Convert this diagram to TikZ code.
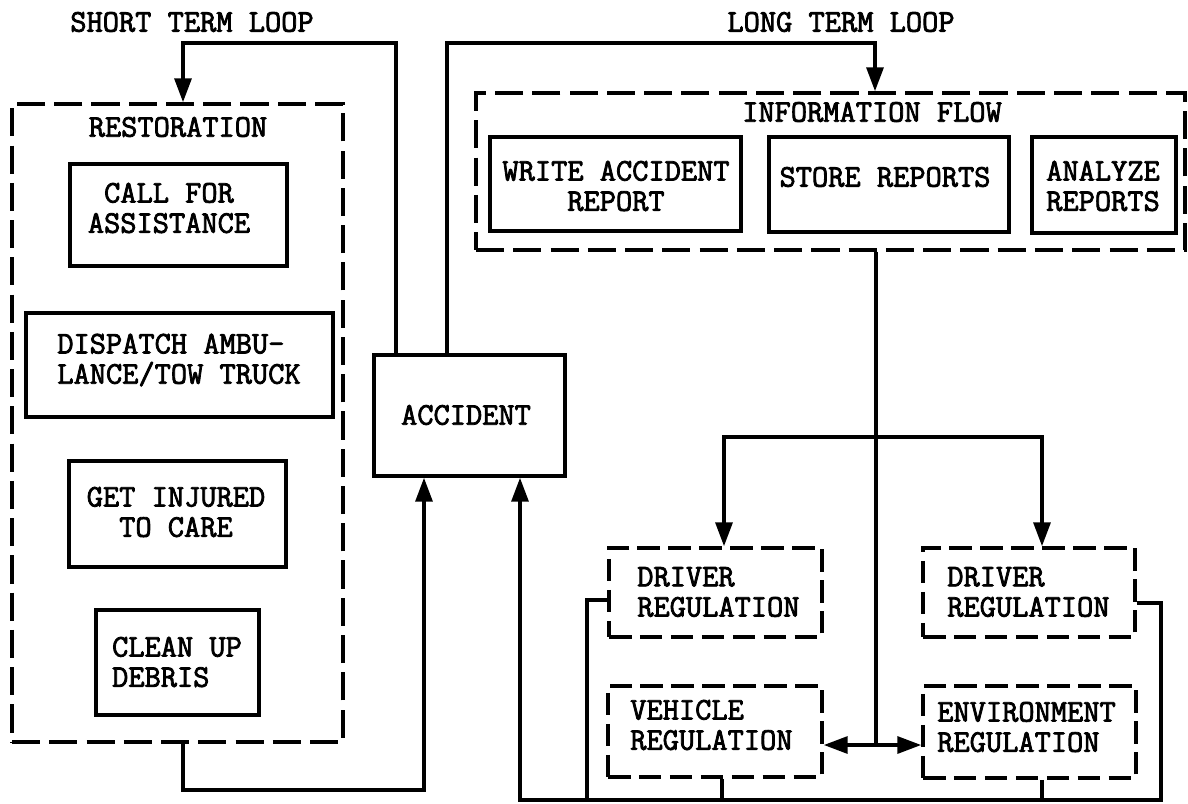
\documentclass[tikz,border=0pt]{standalone}
\usepackage{fontspec}
\newfontfamily\twfam{Latin Modern Mono}[FakeBold=2.5]
\newcommand\twfont{\fontsize{22.4}{21.5}\selectfont\twfam}
\usetikzlibrary{arrows.meta,fit}
\begin{document}
\begin{tikzpicture}[x=0.025cm,y=-0.025cm,
  box/.style={draw, line width=2.5pt, rectangle, inner sep=0pt},
  dbox/.style={draw, line width=2.5pt, rectangle, inner sep=0pt, dash pattern=on 20pt off 6.5pt},
  rbox/.style={draw, line width=2.5pt, rectangle, inner sep=0pt, dash pattern=on 16pt off 6pt},
  txt/.style={font=\twfont, inner sep=0pt, align=center},
  ln/.style={line width=2.5pt},
  arr/.style={line width=2.5pt, -{Triangle[length=17pt,width=12pt]}}]
\useasboundingbox (0,0) rectangle (1188,803);

% loop labels
\node[txt] (stl) at (192,22) {SHORT TERM LOOP};
\node[txt] (ltl) at (841,22) {LONG TERM LOOP};

% restoration
\node[dbox, fit={(12,104) (343,742)}] (rest) {};
\node[txt] (restt) at (178,127) {RESTORATION};
\node[box, fit={(70,164) (287,266)}] (call) {};
\node[txt] (callt) at (169,208) {CALL FOR\\ASSISTANCE};
\node[box, fit={(26,313) (333,417)}] (disp) {};
\node[txt, align=left] (dispt) at (179,360) {DISPATCH AMBU-\\LANCE/TOW TRUCK};
\node[box, fit={(69,461) (286,567)}] (inj) {};
\node[txt] (injt) at (176,512) {GET INJURED\\TO CARE};
\node[box, fit={(96,610) (259,715)}] (clean) {};
\node[txt, align=left] (cleant) at (177,662) {CLEAN UP\\DEBRIS};

% accident
\node[box, fit={(374,355) (565,476)}] (acc) {};
\node[txt] (acct) at (466,415) {ACCIDENT};

% information flow
\node[dbox, fit={(476,93) (1185,250)}] (info) {};
\node[txt] (infot) at (872,112) {INFORMATION FLOW};
\node[box, fit={(490,137) (741,231)}] (write) {};
\node[txt] (writet) at (616,186) {WRITE ACCIDENT\\REPORT};
\node[box, fit={(769,137) (1009,232)}] (store) {};
\node[txt] (storet) at (885,177) {STORE REPORTS};
\node[box, fit={(1032,137) (1176,233)}] (anal) {};
\node[txt] (analt) at (1103,186) {ANALYZE\\REPORTS};

% regulation boxes
\node[rbox, fit={(609,548) (822,637)}] (drl) {};
\node[txt, align=left, anchor=west] (drlt) at (637,592) {DRIVER\\REGULATION};
\node[rbox, fit={(923,548) (1135,637)}] (drr) {};
\node[txt, align=left, anchor=west] (drrt) at (947,592) {DRIVER\\REGULATION};
\node[rbox, fit={(608,686) (822,777)}] (vr) {};
\node[txt, align=left, anchor=west] (vrt) at (630,725) {VEHICLE\\REGULATION};
\node[rbox, fit={(923,686) (1136,778)}] (er) {};
\node[txt, align=left, anchor=west] (ert) at (937,727) {ENVIRONMENT\\REGULATION};

% short term loop
\coordinate (sA) at (396,43);
\coordinate (sB) at (183,43);
\draw[arr] (sA |- acc.north) -- (sA) -- (sB) -- (sB |- rest.north);

% long term loop
\coordinate (lA) at (447,43);
\coordinate (lB) at (875,43);
\draw[arr] (lA |- acc.north) -- (lA) -- (lB) -- (lB |- info.north);

% restoration back to accident
\coordinate (rA) at (183,790);
\coordinate (rB) at (424,790);
\draw[arr] (rA |- rest.south) -- (rA) -- (rB) -- (rB |- acc.south);

% regulation back to accident
\coordinate (bA) at (520,800);
\coordinate (bR) at (1161,800);
\coordinate (dR) at (1161,603);
\coordinate (dL) at (587,600);
\coordinate (vB) at (722,800);
\coordinate (eB) at (1042,800);
\draw[arr] (dR -| drr.east) -- (dR) -- (bR) -- (bA) -- (bA |- acc.south);
\draw[ln] (dL -| drl.west) -- (dL) -- (dL |- bA);
\draw[ln] (vB |- vr.south) -- (vB);
\draw[ln] (eB |- er.south) -- (eB);

% information flow to regulations
\coordinate (iB) at (876,437);
\coordinate (iA) at (876,745);
\coordinate (jL) at (724,437);
\coordinate (jR) at (1042,437);
\draw[ln] (iB |- info.south) -- (iA);
\draw[arr] (iA) -- (iA -| vr.east);
\draw[arr] (iA) -- (iA -| er.west);
\draw[arr] (iB) -- (jL) -- (jL |- drl.north);
\draw[arr] (iB) -- (jR) -- (jR |- drr.north);
\end{tikzpicture}
\end{document}
